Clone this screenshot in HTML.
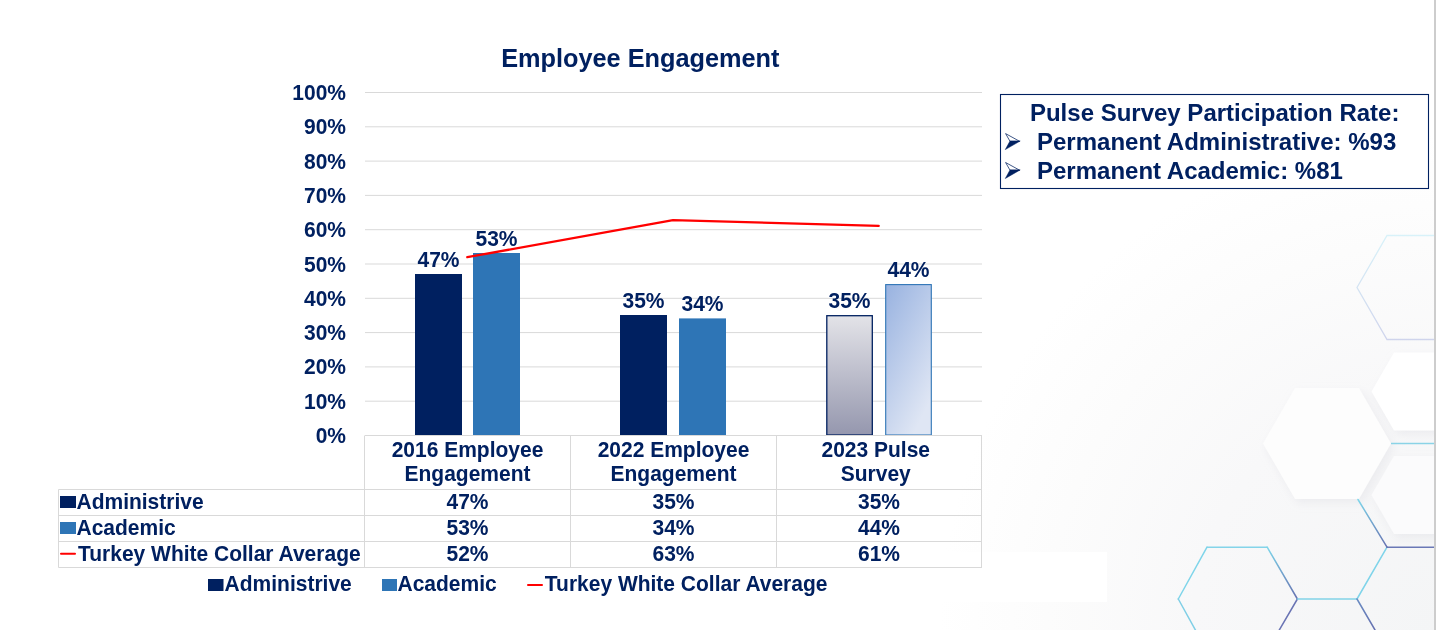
<!DOCTYPE html>
<html><head><meta charset="utf-8">
<style>
html,body{margin:0;padding:0;width:1436px;height:630px;overflow:hidden;background:#fff;}
body{position:relative;font-family:"Liberation Sans",sans-serif;}
svg{position:absolute;left:0;top:0;will-change:transform;}
.t{font-family:"Liberation Sans",sans-serif;font-weight:bold;fill:#002060;}
</style></head>
<body>
<svg width="1436" height="630" viewBox="0 0 1436 630">
<defs>
  <radialGradient id="bg" cx="1436" cy="630" r="540" gradientUnits="userSpaceOnUse">
    <stop offset="0" stop-color="#f4f5f6"/>
    <stop offset="0.45" stop-color="#f8f8f9"/>
    <stop offset="0.72" stop-color="#fcfcfc"/>
    <stop offset="0.92" stop-color="#ffffff"/>
    <stop offset="1" stop-color="#ffffff"/>
  </radialGradient>
  <filter id="sh" x="-30%" y="-30%" width="160%" height="160%">
    <feGaussianBlur in="SourceAlpha" stdDeviation="5"/>
    <feOffset dx="3" dy="4" result="b"/>
    <feFlood flood-color="#c8c8d2" flood-opacity="0.25"/>
    <feComposite in2="b" operator="in"/>
    <feMerge><feMergeNode/><feMergeNode in="SourceGraphic"/></feMerge>
  </filter>
  <linearGradient id="dg" x1="0" y1="0" x2="0" y2="1">
    <stop offset="0" stop-color="#7ed6ea"/>
    <stop offset="1" stop-color="#6570b0"/>
  </linearGradient>
  <linearGradient id="dg2" x1="0" y1="0" x2="0" y2="1">
    <stop offset="0" stop-color="#6a8cc2"/>
    <stop offset="1" stop-color="#6570b0"/>
  </linearGradient>
  <linearGradient id="hxv" x1="0" y1="0" x2="0" y2="1">
    <stop offset="0" stop-color="#d8f2f9"/>
    <stop offset="1" stop-color="#cfd4ec"/>
  </linearGradient>
  <linearGradient id="g1" x1="0" y1="0" x2="0" y2="1">
    <stop offset="0" stop-color="#e3e3e8"/>
    <stop offset="1" stop-color="#9597ae"/>
  </linearGradient>
  <linearGradient id="g2" x1="0" y1="0" x2="0.6" y2="1">
    <stop offset="0" stop-color="#98b2e0"/>
    <stop offset="1" stop-color="#dfe6f4"/>
  </linearGradient>
  <linearGradient id="hx" x1="0" y1="0" x2="1" y2="1">
    <stop offset="0" stop-color="#7fd6ea"/>
    <stop offset="1" stop-color="#6a74b4"/>
  </linearGradient>
</defs>
<rect x="0" y="0" width="1436" height="630" fill="url(#bg)"/>


<!-- hex decoration -->
<g>
  <polygon points="1357,287.5 1387,235.5 1447,235.5 1477,287.5 1447,339.5 1387,339.5" fill="none" stroke="url(#hxv)" stroke-width="1.3"/>
  <g fill="#fbfbfc" filter="url(#sh)">
    <polygon points="1263,443.5 1295,388 1359,388 1391,443.5 1359,499 1295,499" fill="#fdfdfd"/>
    <polygon points="1371.5,391.5 1394,352.5 1439,352.5 1461.5,391.5 1439,430.5 1394,430.5" fill="#ffffff"/>
    <polygon points="1371.5,495 1394,456 1439,456 1461.5,495 1439,534 1394,534"/>
  </g>
  <line x1="1391" y1="443.5" x2="1434" y2="443.5" stroke="#8ad3e6" stroke-width="1.5"/>
  <g fill="none" stroke-width="1.5" stroke-linecap="round">
    <line x1="1178.3" y1="599" x2="1207" y2="547.2" stroke="#7fd5ea"/>
    <line x1="1207" y1="547.2" x2="1267.2" y2="547.2" stroke="#84d4e9"/>
    <line x1="1267.2" y1="547.2" x2="1297.4" y2="599" stroke="url(#dg)"/>
    <line x1="1297.4" y1="599" x2="1267" y2="651" stroke="#6a74b4"/>
    <line x1="1178.3" y1="599" x2="1207" y2="651" stroke="#80cfe6"/>
    <line x1="1297.4" y1="599" x2="1357" y2="599" stroke="#83d3e8"/>
    <line x1="1357" y1="599" x2="1387" y2="547.2" stroke="#7fd4ea"/>
    <line x1="1387" y1="547.2" x2="1434" y2="547.2" stroke="#6a78b6"/>
    <line x1="1358" y1="499.5" x2="1387" y2="547.2" stroke="url(#dg)"/>
    <line x1="1357" y1="599" x2="1375" y2="630" stroke="url(#dg2)"/>
  </g>
</g>

<!-- legend white box -->
<rect x="0" y="552" width="1107" height="50" fill="#ffffff"/>

<!-- gridlines -->
<g stroke="#d9d9d9" stroke-width="1">
  <line x1="365" y1="92.5" x2="982" y2="92.5"/>
  <line x1="365" y1="126.8" x2="982" y2="126.8"/>
  <line x1="365" y1="161.1" x2="982" y2="161.1"/>
  <line x1="365" y1="195.4" x2="982" y2="195.4"/>
  <line x1="365" y1="229.7" x2="982" y2="229.7"/>
  <line x1="365" y1="264" x2="982" y2="264"/>
  <line x1="365" y1="298.3" x2="982" y2="298.3"/>
  <line x1="365" y1="332.6" x2="982" y2="332.6"/>
  <line x1="365" y1="366.9" x2="982" y2="366.9"/>
  <line x1="365" y1="401.2" x2="982" y2="401.2"/>
</g>

<!-- title -->
<text class="t" x="640.3" y="67.2" font-size="25.3" text-anchor="middle">Employee Engagement</text>

<!-- y axis labels -->
<g class="t" font-size="21" text-anchor="end">
  <text x="346" y="100.2" transform="matrix(1,0,0,1.07,0,-7.014)">100%</text>
  <text x="346" y="134.5" transform="matrix(1,0,0,1.07,0,-9.415)">90%</text>
  <text x="346" y="168.8" transform="matrix(1,0,0,1.07,0,-11.816)">80%</text>
  <text x="346" y="203.0" transform="matrix(1,0,0,1.07,0,-14.210)">70%</text>
  <text x="346" y="237.3" transform="matrix(1,0,0,1.07,0,-16.611)">60%</text>
  <text x="346" y="271.6" transform="matrix(1,0,0,1.07,0,-19.012)">50%</text>
  <text x="346" y="305.8" transform="matrix(1,0,0,1.07,0,-21.406)">40%</text>
  <text x="346" y="340.0" transform="matrix(1,0,0,1.07,0,-23.800)">30%</text>
  <text x="346" y="373.8" transform="matrix(1,0,0,1.07,0,-26.166)">20%</text>
  <text x="346" y="408.6" transform="matrix(1,0,0,1.07,0,-28.602)">10%</text>
  <text x="346" y="442.8" transform="matrix(1,0,0,1.07,0,-30.996)">0%</text>
</g>

<!-- bars -->
<rect x="415" y="274" width="47" height="161" fill="#002060"/>
<rect x="473" y="253" width="47" height="182" fill="#2e75b6"/>
<rect x="620" y="315" width="47" height="120" fill="#002060"/>
<rect x="679" y="318.4" width="47" height="116.6" fill="#2e75b6"/>
<rect x="826.8" y="315.7" width="45.5" height="119.3" fill="url(#g1)" stroke="#002060" stroke-width="1.3"/>
<rect x="885.7" y="284.6" width="45.6" height="150.4" fill="url(#g2)" stroke="#2e75b6" stroke-width="1.1"/>

<!-- line -->
<polyline points="467.3,257.2 673,220.1 878.7,225.9" fill="none" stroke="#ff0000" stroke-width="2.3" stroke-linejoin="round" stroke-linecap="round"/>

<!-- data labels -->
<g class="t" font-size="21" text-anchor="middle">
  <text x="438.5" y="267" transform="matrix(1,0,0,1.07,0,-18.690)">47%</text>
  <text x="496.5" y="246" transform="matrix(1,0,0,1.07,0,-17.220)">53%</text>
  <text x="643.5" y="308" transform="matrix(1,0,0,1.07,0,-21.560)">35%</text>
  <text x="702.5" y="311.4" transform="matrix(1,0,0,1.07,0,-21.798)">34%</text>
  <text x="849.5" y="308" transform="matrix(1,0,0,1.07,0,-21.560)">35%</text>
  <text x="908.5" y="277" transform="matrix(1,0,0,1.07,0,-19.390)">44%</text>
</g>

<!-- table -->
<g stroke="#d9d9d9" stroke-width="1" fill="none">
  <line x1="365" y1="435.5" x2="982" y2="435.5"/>
  <line x1="58.5" y1="489.5" x2="982" y2="489.5"/>
  <line x1="58.5" y1="515.5" x2="982" y2="515.5"/>
  <line x1="58.5" y1="541.5" x2="982" y2="541.5"/>
  <line x1="58.5" y1="567.5" x2="982" y2="567.5"/>
  <line x1="58.5" y1="489.5" x2="58.5" y2="567.5"/>
  <line x1="364.5" y1="435.5" x2="364.5" y2="567.5"/>
  <line x1="570.5" y1="435.5" x2="570.5" y2="567.5"/>
  <line x1="776.5" y1="435.5" x2="776.5" y2="567.5"/>
  <line x1="981.5" y1="435.5" x2="981.5" y2="567.5"/>
</g>
<g class="t" font-size="21" text-anchor="middle">
  <text x="467.5" y="457" transform="matrix(1,0,0,1.07,0,-31.990)">2016 Employee</text>
  <text x="467.5" y="481" transform="matrix(1,0,0,1.07,0,-33.670)">Engagement</text>
  <text x="673.5" y="457" transform="matrix(1,0,0,1.07,0,-31.990)">2022 Employee</text>
  <text x="673.5" y="481" transform="matrix(1,0,0,1.07,0,-33.670)">Engagement</text>
  <text x="875.8" y="457" transform="matrix(1,0,0,1.07,0,-31.990)">2023 Pulse</text>
  <text x="875.8" y="481" transform="matrix(1,0,0,1.07,0,-33.670)">Survey</text>
  <text x="467.5" y="509.3" transform="matrix(1,0,0,1.07,0,-35.651)">47%</text>
  <text x="467.5" y="535.3" transform="matrix(1,0,0,1.07,0,-37.471)">53%</text>
  <text x="467.5" y="561.3" transform="matrix(1,0,0,1.07,0,-39.291)">52%</text>
  <text x="673.5" y="509.3" transform="matrix(1,0,0,1.07,0,-35.651)">35%</text>
  <text x="673.5" y="535.3" transform="matrix(1,0,0,1.07,0,-37.471)">34%</text>
  <text x="673.5" y="561.3" transform="matrix(1,0,0,1.07,0,-39.291)">63%</text>
  <text x="879" y="509.3" transform="matrix(1,0,0,1.07,0,-35.651)">35%</text>
  <text x="879" y="535.3" transform="matrix(1,0,0,1.07,0,-37.471)">44%</text>
  <text x="879" y="561.3" transform="matrix(1,0,0,1.07,0,-39.291)">61%</text>
</g>
<rect x="60" y="496" width="16" height="12" fill="#002060"/>
<rect x="60" y="522" width="16" height="12" fill="#2e75b6"/>
<rect x="60" y="552.8" width="16" height="2" rx="1" fill="#ff0000"/>
<g class="t" font-size="21">
  <text x="76.5" y="509.3" transform="matrix(1,0,0,1.07,0,-35.651)">Administrive</text>
  <text x="76.5" y="535.3" transform="matrix(1,0,0,1.07,0,-37.471)">Academic</text>
  <text x="78" y="561.3" transform="matrix(1,0,0,1.07,0,-39.291)">Turkey White Collar Average</text>
</g>

<!-- legend -->
<rect x="208" y="579" width="15.5" height="12" fill="#002060"/>
<rect x="382" y="579" width="15" height="12" fill="#2e75b6"/>
<rect x="527" y="584" width="16" height="2" rx="1" fill="#ff0000"/>
<g class="t" font-size="21">
  <text x="224.6" y="590.6" transform="matrix(1,0,0,1.07,0,-41.342)">Administrive</text>
  <text x="397.5" y="590.6" transform="matrix(1,0,0,1.07,0,-41.342)">Academic</text>
  <text x="544.8" y="590.6" transform="matrix(1,0,0,1.07,0,-41.342)">Turkey White Collar Average</text>
</g>

<!-- right box -->
<rect x="1000.5" y="94.5" width="428" height="94" fill="#fff" stroke="#002060" stroke-width="1.1"/>
<g class="t" font-size="24">
  <text x="1214.7" y="121" text-anchor="middle">Pulse Survey Participation Rate:</text>
  <text x="1037" y="150">Permanent Administrative: %93</text>
  <text x="1037" y="179">Permanent Academic: %81</text>
</g>
<g fill="#002060" stroke="#002060" stroke-linejoin="miter">
  <path d="M1005.6,133.6 L1019.6,141.3 L1010,141.3 Z" fill="none" stroke-width="0.75"/>
  <path d="M1010,141 L1020.2,141 L1005.3,149.6 Z" stroke-width="0.5"/>
  <path d="M1005.6,162.5 L1019.6,170.2 L1010,170.2 Z" fill="none" stroke-width="0.75"/>
  <path d="M1010,169.9 L1020.2,169.9 L1005.3,178.5 Z" stroke-width="0.5"/>
</g>

<!-- right edge shadow -->
<rect x="1434" y="0" width="2" height="630" fill="#cdcdcd"/>
</svg>
</body></html>
